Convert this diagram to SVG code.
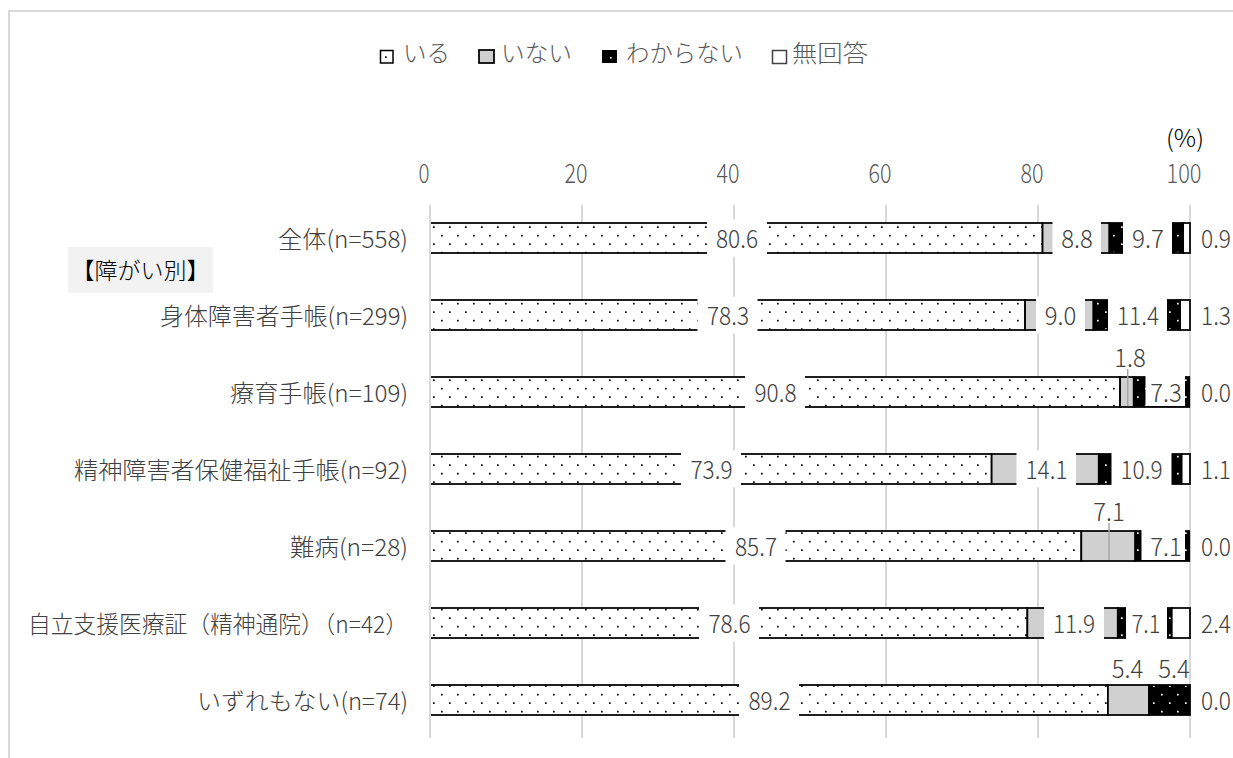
<svg xmlns="http://www.w3.org/2000/svg" width="1233" height="758" viewBox="0 0 1233 758">
<defs>
<pattern id="dotW" patternUnits="userSpaceOnUse" x="430" y="223" width="16" height="17">
<rect width="16" height="17" fill="#fff"/>
<rect x="3" y="3.3" width="1.7" height="1.7" fill="#000"/>
<rect x="11" y="11.8" width="1.7" height="1.7" fill="#000"/>
</pattern>
<pattern id="dotB" patternUnits="userSpaceOnUse" x="430" y="223" width="16" height="17">
<rect width="16" height="17" fill="#000"/>
<rect x="3" y="3.3" width="1.7" height="1.7" fill="#fff"/>
<rect x="11" y="11.8" width="1.7" height="1.7" fill="#fff"/>
</pattern>
</defs>
<style>
text { font-family: "Noto Sans CJK JP", "Noto Sans", sans-serif; }
.cat { font-size: 23.5px; fill: #404040; text-anchor: end; font-weight: 300; }
.val { font-size: 25px; fill: #404040; text-anchor: middle; font-weight: 300; }
.valr { font-size: 25px; fill: #404040; text-anchor: start; font-weight: 300; }
.axis { font-size: 27px; fill: #595959; text-anchor: middle; font-weight: 300; }
.leg { font-size: 23.5px; fill: #595959; font-weight: 300; }
.grid { stroke: #d9d9d9; stroke-width: 2; fill: none; }
.s1 { fill: url(#dotW); stroke: #000; stroke-width: 1.75; }
.s2 { fill: #d0d0d0; stroke: #000; stroke-width: 1.75; }
.s3 { fill: url(#dotB); stroke: #000; stroke-width: 1.75; }
.s4 { fill: #fff; stroke: #000; stroke-width: 1.75; }
.lb { fill: #fff; }
.leader { stroke: #a6a6a6; stroke-width: 1.5; }
</style>
<rect x="0" y="0" width="1233" height="758" fill="#fff"/>
<rect x="9" y="11" width="1240" height="760" fill="none" stroke="#d9d9d9" stroke-width="2"/>

<g id="legend">
<rect x="380.5" y="50.5" width="12.5" height="12.5" fill="url(#dotW)" stroke="#000" stroke-width="1.5"/>
<text class="leg" x="403" y="62" textLength="47" lengthAdjust="spacingAndGlyphs">いる</text>
<rect x="479" y="50" width="15" height="13" class="s2" stroke-width="1.5"/>
<text class="leg" x="501" y="62" textLength="71" lengthAdjust="spacingAndGlyphs">いない</text>
<rect x="602" y="50" width="15" height="13" fill="#000"/>
<rect x="610" y="57" width="1.6" height="1.6" fill="#fff"/>
<text class="leg" x="626" y="62" textLength="117" lengthAdjust="spacingAndGlyphs">わからない</text>
<rect x="772.5" y="50.5" width="14" height="13" fill="#fff" stroke="#404040" stroke-width="1.5"/>
<text class="leg" x="792" y="62" textLength="76" lengthAdjust="spacingAndGlyphs">無回答</text>
</g>

<g id="axis">
<text x="1185" y="147" font-size="24" fill="#000" text-anchor="middle" font-weight="300" textLength="38" lengthAdjust="spacingAndGlyphs">(%)</text>
<text class="axis" x="424" y="183" textLength="11" lengthAdjust="spacingAndGlyphs">0</text>
<text class="axis" x="576" y="183" textLength="23" lengthAdjust="spacingAndGlyphs">20</text>
<text class="axis" x="728" y="183" textLength="23" lengthAdjust="spacingAndGlyphs">40</text>
<text class="axis" x="880" y="183" textLength="23" lengthAdjust="spacingAndGlyphs">60</text>
<text class="axis" x="1032" y="183" textLength="23" lengthAdjust="spacingAndGlyphs">80</text>
<text class="axis" x="1184" y="183" textLength="35" lengthAdjust="spacingAndGlyphs">100</text>
</g>

<g id="gridlines">
<line class="grid" x1="582" y1="205" x2="582" y2="738"/>
<line class="grid" x1="734" y1="205" x2="734" y2="738"/>
<line class="grid" x1="886" y1="205" x2="886" y2="738"/>
<line class="grid" x1="1038" y1="205" x2="1038" y2="738"/>
<line class="grid" x1="1190" y1="205" x2="1190" y2="738"/>
</g>

<g id="group-label">
<rect x="68" y="247" width="145" height="46" fill="#f2f2f2"/>
<text x="140.5" y="279" font-size="23" fill="#000" text-anchor="middle" font-weight="300" textLength="138" lengthAdjust="spacingAndGlyphs">【障がい別】</text>
</g>

<g id="row-zentai">
<text class="cat" x="408" y="248" textLength="130" lengthAdjust="spacingAndGlyphs">全体(n=558)</text>
<rect class="s1" x="430" y="223" width="612.56" height="30"/>
<rect class="s2" x="1042.56" y="223" width="66.88" height="30"/>
<rect class="s3" x="1109.44" y="223" width="73.72" height="30"/>
<rect class="s4" x="1183.16" y="223" width="6.84" height="30"/>
<rect class="lb" x="707" y="219.5" width="60" height="37"/>
<rect class="lb" x="1052.5" y="219.5" width="48.5" height="37"/>
<rect class="lb" x="1123" y="219.5" width="49" height="37"/>
<text class="val" x="737" y="248" textLength="42" lengthAdjust="spacingAndGlyphs">80.6</text>
<text class="val" x="1077" y="248" textLength="31.5" lengthAdjust="spacingAndGlyphs">8.8</text>
<text class="val" x="1148" y="248" textLength="32" lengthAdjust="spacingAndGlyphs">9.7</text>
<text class="valr" x="1201" y="248" textLength="30" lengthAdjust="spacingAndGlyphs">0.9</text>
</g>

<g id="row-shintai">
<text class="cat" x="408" y="325" textLength="248" lengthAdjust="spacingAndGlyphs">身体障害者手帳(n=299)</text>
<rect class="s1" x="430" y="300" width="595.08" height="30"/>
<rect class="s2" x="1025.08" y="300" width="68.4" height="30"/>
<rect class="s3" x="1093.48" y="300" width="86.64" height="30"/>
<rect class="s4" x="1180.12" y="300" width="9.88" height="30"/>
<rect class="lb" x="697.5" y="296.5" width="60" height="37"/>
<rect class="lb" x="1036" y="296.5" width="49" height="37"/>
<rect class="lb" x="1108" y="296.5" width="59" height="37"/>
<text class="val" x="728" y="325" textLength="42" lengthAdjust="spacingAndGlyphs">78.3</text>
<text class="val" x="1060.5" y="325" textLength="31.5" lengthAdjust="spacingAndGlyphs">9.0</text>
<text class="val" x="1138" y="325" textLength="42" lengthAdjust="spacingAndGlyphs">11.4</text>
<text class="valr" x="1201" y="325" textLength="30" lengthAdjust="spacingAndGlyphs">1.3</text>
</g>

<g id="row-ryouiku">
<text class="cat" x="408" y="402" textLength="178" lengthAdjust="spacingAndGlyphs">療育手帳(n=109)</text>
<rect class="s1" x="430" y="377" width="690.08" height="30"/>
<rect class="s2" x="1120.08" y="377" width="13.68" height="30"/>
<rect class="s3" x="1133.76" y="377" width="55.48" height="30"/>
<rect class="lb" x="745" y="373.5" width="60" height="37"/>
<rect class="lb" x="1145.5" y="373.5" width="39.5" height="32.5"/>
<line class="leader" x1="1127.7" y1="369" x2="1127.7" y2="406"/>
<text class="val" x="775.5" y="402" textLength="42" lengthAdjust="spacingAndGlyphs">90.8</text>
<text class="val" x="1130" y="367" textLength="31.5" lengthAdjust="spacingAndGlyphs">1.8</text>
<text class="val" x="1166" y="402" textLength="31.5" lengthAdjust="spacingAndGlyphs">7.3</text>
<text class="valr" x="1201" y="402" textLength="30" lengthAdjust="spacingAndGlyphs">0.0</text>
</g>

<g id="row-seishin">
<text class="cat" x="408" y="479" textLength="334" lengthAdjust="spacingAndGlyphs">精神障害者保健福祉手帳(n=92)</text>
<rect class="s1" x="430" y="454" width="561.64" height="30"/>
<rect class="s2" x="991.64" y="454" width="107.16" height="30"/>
<rect class="s3" x="1098.8" y="454" width="82.84" height="30"/>
<rect class="s4" x="1181.64" y="454" width="8.36" height="30"/>
<rect class="lb" x="681" y="450.5" width="60" height="37"/>
<rect class="lb" x="1016.5" y="450.5" width="59.5" height="37"/>
<rect class="lb" x="1111.5" y="450.5" width="60" height="37"/>
<text class="val" x="711.5" y="479" textLength="42" lengthAdjust="spacingAndGlyphs">73.9</text>
<text class="val" x="1046.5" y="479" textLength="42" lengthAdjust="spacingAndGlyphs">14.1</text>
<text class="val" x="1141.5" y="479" textLength="42" lengthAdjust="spacingAndGlyphs">10.9</text>
<text class="valr" x="1201" y="479" textLength="30" lengthAdjust="spacingAndGlyphs">1.1</text>
</g>

<g id="row-nanbyou">
<text class="cat" x="408" y="556" textLength="118" lengthAdjust="spacingAndGlyphs">難病(n=28)</text>
<rect class="s1" x="430" y="531" width="651.32" height="30"/>
<rect class="s2" x="1081.32" y="531" width="53.96" height="30"/>
<rect class="s3" x="1135.28" y="531" width="53.96" height="30"/>
<rect class="lb" x="725.5" y="527.5" width="60" height="37"/>
<rect class="lb" x="1141.5" y="527.5" width="43.5" height="32.5"/>
<line class="leader" x1="1109" y1="523" x2="1109" y2="560"/>
<text class="val" x="756" y="556" textLength="42" lengthAdjust="spacingAndGlyphs">85.7</text>
<text class="val" x="1109" y="521" textLength="31.5" lengthAdjust="spacingAndGlyphs">7.1</text>
<text class="val" x="1166" y="556" textLength="31.5" lengthAdjust="spacingAndGlyphs">7.1</text>
<text class="valr" x="1201" y="556" textLength="30" lengthAdjust="spacingAndGlyphs">0.0</text>
</g>

<g id="row-jiritsu">
<text class="cat" x="408" y="633" textLength="380" lengthAdjust="spacingAndGlyphs">自立支援医療証（精神通院）（n=42）</text>
<rect class="s1" x="430" y="608" width="597.36" height="30"/>
<rect class="s2" x="1027.36" y="608" width="90.44" height="30"/>
<rect class="s3" x="1117.8" y="608" width="53.96" height="30"/>
<rect class="s4" x="1171.76" y="608" width="18.24" height="30"/>
<rect class="lb" x="699" y="604.5" width="60" height="37"/>
<rect class="lb" x="1044" y="604.5" width="60" height="37"/>
<rect class="lb" x="1126" y="604.5" width="41" height="37"/>
<text class="val" x="729.5" y="633" textLength="42" lengthAdjust="spacingAndGlyphs">78.6</text>
<text class="val" x="1074" y="633" textLength="42" lengthAdjust="spacingAndGlyphs">11.9</text>
<text class="val" x="1146" y="633" textLength="29" lengthAdjust="spacingAndGlyphs">7.1</text>
<text class="valr" x="1201" y="633" textLength="30" lengthAdjust="spacingAndGlyphs">2.4</text>
</g>

<g id="row-izuremo">
<text class="cat" x="408" y="710" textLength="211" lengthAdjust="spacingAndGlyphs">いずれもない(n=74)</text>
<rect class="s1" x="430" y="685" width="677.92" height="30"/>
<rect class="s2" x="1107.92" y="685" width="41.04" height="30"/>
<rect class="s3" x="1148.96" y="685" width="41.04" height="30"/>
<rect class="lb" x="739" y="681.5" width="60" height="37"/>
<text class="val" x="769.5" y="710" textLength="42" lengthAdjust="spacingAndGlyphs">89.2</text>
<text class="val" x="1127.5" y="678" textLength="31.5" lengthAdjust="spacingAndGlyphs">5.4</text>
<text class="val" x="1174" y="678" textLength="31.5" lengthAdjust="spacingAndGlyphs">5.4</text>
<text class="valr" x="1201" y="710" textLength="30" lengthAdjust="spacingAndGlyphs">0.0</text>
</g>

<g id="value-axis-line">
<line class="grid" x1="430" y1="205" x2="430" y2="738"/>
</g>
</svg>
